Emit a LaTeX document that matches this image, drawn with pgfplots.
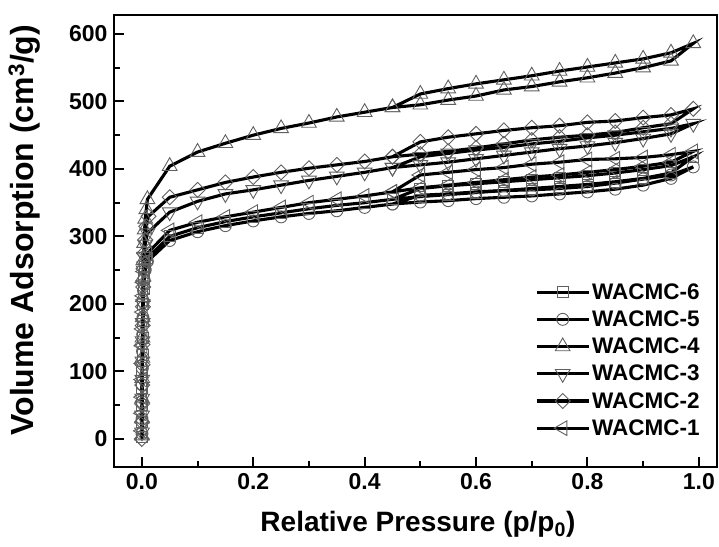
\documentclass[border=0pt]{standalone}
\usepackage{pgfplots}
\pgfplotsset{compat=1.18}
\usepackage{fontspec}
\setmainfont{Liberation Sans}
\begin{document}
\begin{tikzpicture}
\useasboundingbox (-114pt,-79pt) rectangle (605pt,467pt);
\tikzset{mk/.style={fill=white, draw=gray!75!black, line width=0.9pt, solid}}
\begin{axis}[
  scale only axis, width=603pt, height=452pt,
  xmin=-0.05, xmax=1.0326, ymin=-41.5, ymax=628,
  axis line style={line width=2pt},
  xtick pos=bottom, ytick pos=left,
  tick align=inside,
  major tick length=10pt, minor tick length=6pt,
  every tick/.style={black, line width=2pt},
  xtick={0,0.2,0.4,0.6,0.8,1.0},
  minor xtick={0.1,0.3,0.5,0.7,0.9},
  ytick={0,100,200,300,400,500,600},
  minor ytick={50,150,250,350,450,550},
  /pgf/number format/assume math mode=true,
  xticklabel style={/pgf/number format/fixed, /pgf/number format/fixed zerofill, /pgf/number format/precision=1, yshift=-3pt},
  yticklabel style={xshift=-3pt},
  tick label style={font=\fontsize{23}{27}\selectfont\bfseries},
  xlabel={Relative Pressure (p/p\textsubscript{0})},
  ylabel={Volume Adsorption (cm\textsuperscript{3}/g)},
  xlabel style={font=\fontsize{28}{33}\selectfont\bfseries, at={(axis description cs:0.504,0)}, yshift=-64pt, anchor=base},
  ylabel style={font=\fontsize{32}{38}\selectfont\bfseries, at={(axis description cs:-0.149,0.524)}, anchor=center},
  legend cell align=left,
  legend style={draw=none, fill=none, at={(0.975,0.062)}, anchor=south east,
    font=\fontsize{22.5}{26}\selectfont\bfseries, row sep=6pt, inner sep=0pt},
  legend image code/.code={\draw[mark repeat=2, mark phase=2, #1] plot coordinates {(0pt,0pt) (26pt,0pt) (52pt,0pt)};},
  every axis plot/.append style={black, line width=3.1pt},
]
% WACMC-6
\addplot[mark=square, mark size=5.5pt, mark options={mk}] coordinates {
(0.0002,3)(0.0003,25)(0.0005,50)(0.0007,75)(0.0009,100)(0.0012,125)(0.0015,150)(0.002,175)(0.0025,200)(0.003,222)(0.004,240)(0.006,255)(0.01,268)
(0.05,300)(0.1,313)(0.15,322)(0.2,329)(0.25,335)(0.3,341)(0.35,346)(0.4,350)(0.45,355)(0.5,359)(0.55,362)(0.6,365)(0.65,368)(0.7,371)(0.75,374)(0.8,377)(0.85,381)(0.9,386)(0.95,394)(0.99,418)
(0.95,405)(0.9,399)(0.85,394)(0.8,390)(0.75,387)(0.7,384)(0.65,381)(0.6,378)(0.55,375)(0.5,371)(0.45,355)};
\addlegendentry{WACMC-6}
% WACMC-5
\addplot[mark=o, mark size=6pt, mark options={mk}] coordinates {
(0.0002,8)(0.0003,30)(0.0005,55)(0.0007,80)(0.0009,105)(0.0012,130)(0.0015,155)(0.002,180)(0.0025,203)(0.003,220)(0.004,236)(0.006,250)(0.01,263)
(0.05,294)(0.1,307)(0.15,316)(0.2,323)(0.25,329)(0.3,334)(0.35,338)(0.4,343)(0.45,348)(0.5,351)(0.55,353)(0.6,356)(0.65,358)(0.7,360)(0.75,363)(0.8,366)(0.85,370)(0.9,376)(0.95,386)(0.99,403)
(0.95,391)(0.9,385)(0.85,379)(0.8,374)(0.75,371)(0.7,369)(0.65,368)(0.6,366)(0.55,363)(0.5,361)(0.45,348)};
\addlegendentry{WACMC-5}
% WACMC-4
\addplot[mark=triangle, mark size=8.5pt, mark options={mk}] coordinates {
(0.0002,5)(0.0003,30)(0.0005,60)(0.0007,90)(0.001,120)(0.0012,150)(0.0015,180)(0.002,210)(0.0025,240)(0.003,265)(0.004,290)(0.005,310)(0.006,326)(0.008,340)(0.01,355)
(0.05,404)(0.1,425)(0.15,438)(0.2,450)(0.25,460)(0.3,468)(0.35,477)(0.4,484)(0.45,491)(0.5,495)(0.55,502)(0.6,508)(0.65,517)(0.7,522)(0.75,529)(0.8,535)(0.85,542)(0.9,550)(0.95,560)(0.99,586)
(0.95,572)(0.9,563)(0.85,557)(0.8,551)(0.75,545)(0.7,538)(0.65,532)(0.6,526)(0.55,519)(0.5,511)(0.45,491)};
\addlegendentry{WACMC-4}
% WACMC-3
\addplot[mark=triangle, mark size=8.5pt, mark options={mk, rotate=180}] coordinates {
(0.0002,10)(0.0003,35)(0.0005,60)(0.0007,88)(0.001,115)(0.0012,145)(0.0015,172)(0.002,200)(0.0025,228)(0.003,250)(0.004,270)(0.006,288)(0.01,305)
(0.05,336)(0.1,352)(0.15,363)(0.2,369)(0.25,376)(0.3,383)(0.35,389)(0.4,395)(0.45,402)(0.5,406)(0.55,410)(0.6,415)(0.65,420)(0.7,425)(0.75,430)(0.8,434)(0.85,439)(0.9,445)(0.95,452)(0.99,467)
(0.95,460)(0.9,455)(0.85,450)(0.8,446)(0.75,441)(0.7,437)(0.65,432)(0.6,428)(0.55,423)(0.5,418)(0.45,402)};
\addlegendentry{WACMC-3}
% WACMC-2
\addplot[mark=square, mark size=5.3pt, mark options={mk, rotate=45}] coordinates {
(0,0)(0.0003,25)(0.0005,52)(0.0007,80)(0.001,110)(0.0012,140)(0.0015,168)(0.002,196)(0.0025,225)(0.003,252)(0.004,275)(0.006,295)(0.008,315)(0.012,330)
(0.05,358)(0.1,369)(0.15,380)(0.2,388)(0.25,395)(0.3,401)(0.35,406)(0.4,411)(0.45,418)(0.5,422)(0.55,426)(0.6,431)(0.65,437)(0.7,443)(0.75,447)(0.8,450)(0.85,454)(0.9,461)(0.95,467)(0.99,489)
(0.95,480)(0.9,476)(0.85,471)(0.8,469)(0.75,464)(0.7,461)(0.65,457)(0.6,452)(0.55,447)(0.5,440)(0.45,418)};
\addlegendentry{WACMC-2}
% WACMC-1
\addplot[mark=triangle, mark size=8.5pt, mark options={mk, rotate=90}] coordinates {
(0.0002,12)(0.0003,38)(0.0005,62)(0.0007,88)(0.001,112)(0.0012,138)(0.0015,163)(0.002,188)(0.0025,212)(0.003,232)(0.004,248)(0.006,262)(0.01,275)
(0.05,309)(0.1,321)(0.15,329)(0.2,336)(0.25,343)(0.3,350)(0.35,355)(0.4,360)(0.45,366)(0.5,372)(0.55,376)(0.6,380)(0.65,384)(0.7,388)(0.75,391)(0.8,395)(0.85,399)(0.9,404)(0.95,410)(0.99,426)
(0.95,421)(0.9,417)(0.85,415)(0.8,414)(0.75,410)(0.7,407)(0.65,402)(0.6,399)(0.55,395)(0.5,391)(0.45,366)};
\addlegendentry{WACMC-1}
\end{axis}
\end{tikzpicture}
\end{document}
